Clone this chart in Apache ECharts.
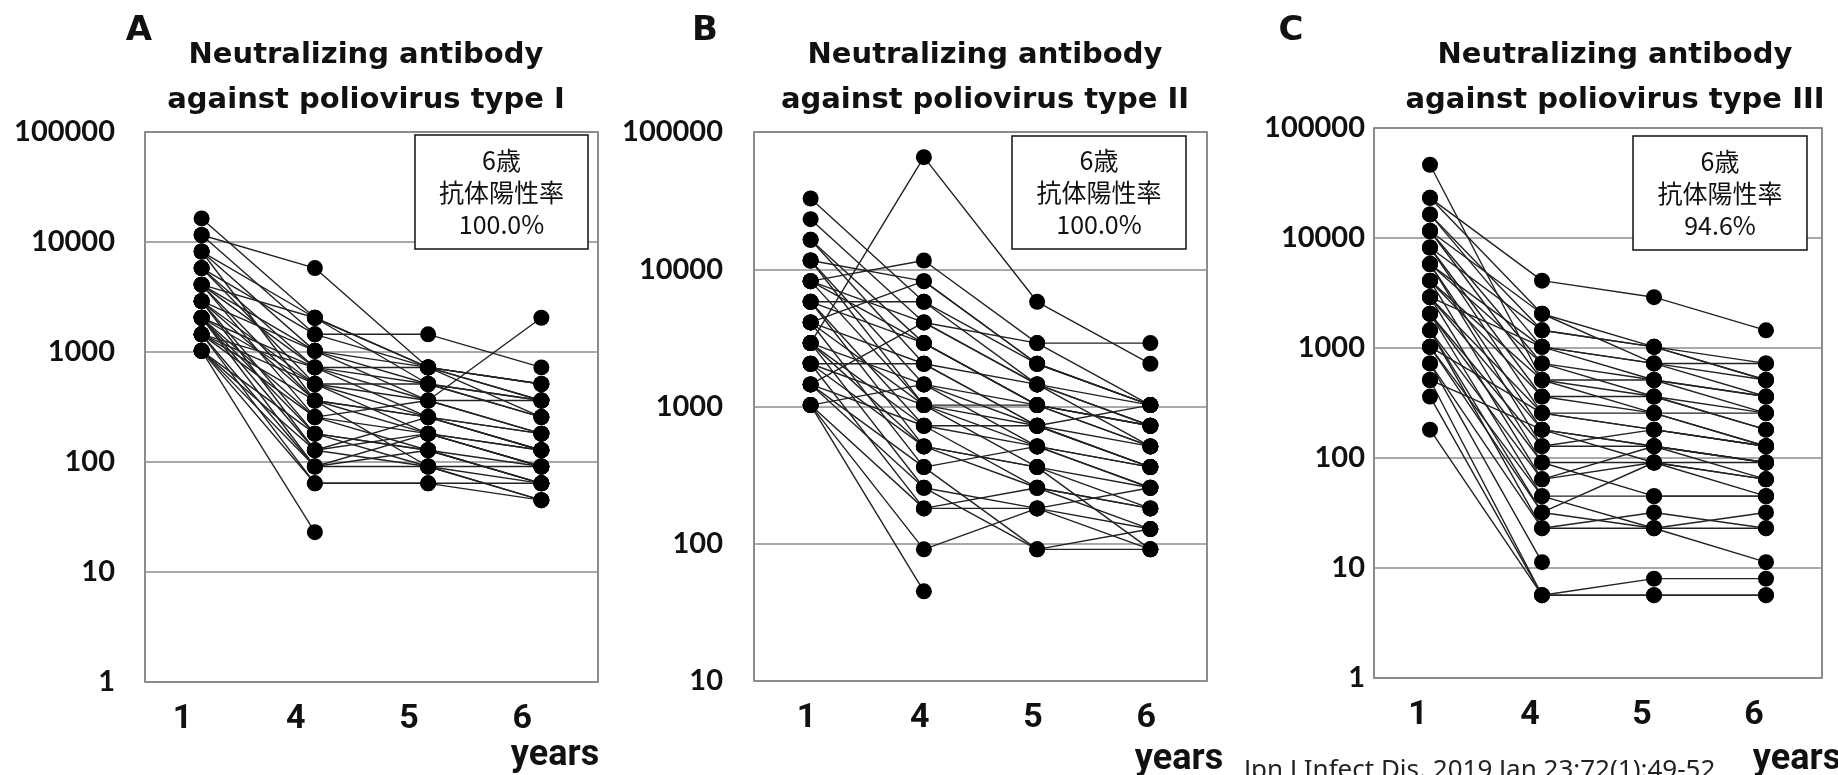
<!DOCTYPE html>
<html>
<head>
<meta charset="utf-8">
<script src="https://cdn.jsdelivr.net/npm/echarts@6/dist/echarts.min.js"></script>
<style>
  html, body { margin: 0; padding: 0; background: #fff; }
  #main { width: 1838px; height: 775px; }
</style>
</head>
<body>
<div id="main"></div>
<script>
// ages at sampling (x axis)
var years = ['1', '4', '5', '6'];

// one row per child: titre at age 1, 4, 5, 6
var typeI = [
  [16384, 2048, 724, 362],
  [11585, 5793, 724, 256],
  [11585, 1448, 1448, 724],
  [8192, 2048, 724, 512],
  [8192, 1024, 512, 256],
  [8192, 362, 91, 91],
  [5793, 1448, 724, 362],
  [5793, 724, 362, 181],
  [5793, 512, 256, 128],
  [4096, 1024, 724, 512],
  [4096, 724, 512, 362],
  [4096, 362, 181, 91],
  [4096, 256, 128, 64],
  [4096, 2048, 512, 362],
  [2896, 1024, 362, 2048],
  [2896, 512, 512, 256],
  [2896, 362, 256, 181],
  [2896, 181, 128, 91],
  [2896, 128, 91, 45],
  [2048, 724, 256, 128],
  [2048, 512, 362, 362],
  [2048, 256, 181, 128],
  [2048, 91, 181, 91],
  [2048, 181, 91, 64],
  [2048, 128, 256, 128],
  [1448, 362, 256, 181],
  [1448, 256, 362, 181],
  [1448, 91, 128, 64],
  [1448, 64, 64, 45],
  [1448, 512, 181, 91],
  [1448, 724, 724, 512],
  [1024, 181, 128, 64],
  [1024, 91, 91, 45],
  [1024, 23, null, null],
  [1024, 64, 64, 64],
  [1024, 128, 181, 128]
];

var typeII = [
  [32768, 5793, 1448, 724],
  [23170, 4096, 2896, 1024],
  [16384, 2896, 1024, 512],
  [16384, 2048, 724, 362],
  [11585, 8192, 2048, 1024],
  [11585, 1448, 512, 256],
  [11585, 1024, 512, 362],
  [8192, 11585, 2896, 2896],
  [8192, 4096, 1448, 724],
  [8192, 1024, 362, 181],
  [8192, 2896, 1024, 724],
  [5793, 5793, 2048, 1024],
  [5793, 2896, 1024, 724],
  [5793, 724, 256, 128],
  [5793, 512, 362, 256],
  [4096, 8192, 2048, 1024],
  [4096, 2048, 1448, 512],
  [4096, 1024, 724, 362],
  [4096, 362, 91, 91],
  [2896, 65536, 5793, 2048],
  [2896, 1448, 1024, 512],
  [2896, 724, 512, 256],
  [2896, 256, 181, 128],
  [2896, 512, 362, 91],
  [2048, 2048, 724, 1024],
  [2048, 1024, 1024, 724],
  [2048, 512, 256, 181],
  [2048, 181, 181, 91],
  [1448, 4096, 1448, 1024],
  [1448, 724, 724, 512],
  [1448, 362, 512, 362],
  [1448, 256, 91, 128],
  [1024, 1448, 724, 362],
  [1024, 91, 181, 256],
  [1024, 45, null, null],
  [1024, 181, 256, 181]
];

var typeIII = [
  [46341, 512, 256, 128],
  [23170, 4096, 2896, 1448],
  [23170, 2048, 1024, 724],
  [16384, 1448, 1024, 512],
  [16384, 1024, 724, 724],
  [11585, 2048, 724, 362],
  [11585, 724, 512, 256],
  [11585, 512, 362, 181],
  [8192, 1448, 1024, 512],
  [8192, 362, 256, 256],
  [8192, 256, 181, 128],
  [5793, 1024, 512, 362],
  [5793, 724, 362, 181],
  [5793, 181, 128, 91],
  [5793, 128, 181, 128],
  [4096, 512, 512, 362],
  [4096, 362, 362, 256],
  [4096, 91, 91, 64],
  [2896, 256, 256, 128],
  [2896, 181, 91, 91],
  [2896, 64, 128, 91],
  [2896, 1024, 724, 512],
  [2048, 128, 128, 64],
  [2048, 91, 45, 45],
  [2048, 45, 45, 45],
  [1448, 64, 91, 64],
  [1448, 32, 23, 11.3],
  [1448, 23, 32, 23],
  [1024, 45, 23, 32],
  [1024, 32, 91, 45],
  [1024, 256, 181, 128],
  [724, 23, 23, 23],
  [724, 11.3, null, null],
  [512, 5.66, 8, 8],
  [512, 181, 128, 91],
  [362, 5.66, 5.66, 5.66],
  [181, 5.66, 5.66, 5.66]
];

var titles = [
  'Neutralizing antibody\nagainst poliovirus type I',
  'Neutralizing antibody\nagainst poliovirus type II',
  'Neutralizing antibody\nagainst poliovirus type III'
];
var letters = ['A', 'B', 'C'];
var positiveRates = ['100.0%', '100.0%', '94.6%'];
var citation = 'Jpn J Infect Dis. 2019 Jan 23;72(1):49-52';

var chart = echarts.init(document.getElementById('main'));

// layout of the three panels
var panels = [
  { rows: typeI,   left: 145,  top: 132, width: 453, height: 550, yMin: 1,  yMargin: 30, shift: 19,
    titleX: 366,  letterX: 139,  box: [415, 135, 173, 114],  yearsX: 555,  yearsY: 756 },
  { rows: typeII,  left: 754,  top: 132, width: 453, height: 549, yMin: 10, yMargin: 31, shift: 4,
    titleX: 985,  letterX: 705,  box: [1012, 136, 174, 113], yearsX: 1179, yearsY: 760 },
  { rows: typeIII, left: 1374, top: 128, width: 448, height: 550, yMin: 1,  yMargin: 9,  shift: 12,
    titleX: 1615, letterX: 1291, box: [1633, 136, 174, 114], yearsX: 1797, yearsY: 760 }
];

var labelFont = 'Lato, "DejaVu Sans", sans-serif';
var headFont = '"DejaVu Sans", sans-serif';
var grids = [], xAxes = [], yAxes = [], series = [], graphics = [];

panels.forEach(function (p, i) {
  grids.push({
    left: p.left, top: p.top, width: p.width, height: p.height,
    show: true, borderColor: '#666', borderWidth: 1.5, backgroundColor: 'transparent'
  });
  xAxes.push({
    type: 'category', gridIndex: i, data: years, boundaryGap: true,
    axisLine: { show: false }, axisTick: { show: false },
    axisLabel: {
      margin: 20, fontSize: 34, fontWeight: 'bold', color: '#111',
      fontFamily: 'Roboto, sans-serif', padding: [0, p.shift * 2, 0, 0]
    }
  });
  yAxes.push({
    type: 'log', logBase: 10, gridIndex: i, min: p.yMin, max: 100000,
    axisLine: { show: false }, axisTick: { show: false },
    axisLabel: {
      margin: p.yMargin, fontSize: 29, fontWeight: 'bold', color: '#111', fontFamily: labelFont,
      formatter: function (v) { return String(Math.round(v)); }
    },
    splitLine: { show: true, lineStyle: { color: '#8c8c8c', width: 1.5 } }
  });
  p.rows.forEach(function (row) {
    series.push({
      type: 'line', xAxisIndex: i, yAxisIndex: i, data: row,
      symbol: 'circle', symbolSize: 16, showAllSymbol: true,
      lineStyle: { color: '#222', width: 1.4 },
      itemStyle: { color: '#000' },
      emphasis: { disabled: true }
    });
  });

  graphics.push({
    type: 'text', x: p.titleX, y: 33, z: 100,
    style: {
      text: titles[i], textAlign: 'center', textVerticalAlign: 'top',
      fontSize: 29, fontWeight: 'bold', lineHeight: 45, fontFamily: headFont, fill: '#111'
    }
  });
  graphics.push({
    type: 'text', x: p.letterX, y: 31, z: 100,
    style: {
      text: letters[i], textAlign: 'center', textVerticalAlign: 'middle',
      fontSize: 34, fontWeight: 'bold', fontFamily: headFont, fill: '#111'
    }
  });
  graphics.push({
    type: 'text', x: p.yearsX, y: p.yearsY, z: 100,
    style: {
      text: 'years', textAlign: 'center', textVerticalAlign: 'middle',
      fontSize: 36, fontWeight: 'bold', fontFamily: 'Roboto, sans-serif', fill: '#111'
    }
  });
  graphics.push({
    type: 'rect', z: 100,
    shape: { x: p.box[0], y: p.box[1], width: p.box[2], height: p.box[3] },
    style: { fill: '#fff', stroke: '#111', lineWidth: 1.5 }
  });
  graphics.push({
    type: 'text', z: 101,
    x: p.box[0] + p.box[2] / 2, y: p.box[1] + p.box[3] / 2,
    style: {
      text: '6歳\n抗体陽性率\n' + positiveRates[i], textAlign: 'center', textVerticalAlign: 'middle',
      fontSize: 25, lineHeight: 32, fontFamily: '"Noto Sans CJK JP", sans-serif', fill: '#111'
    }
  });
});

graphics.push({
  type: 'text', x: 1244, y: 758, z: 100,
  style: {
    text: citation, textAlign: 'left', textVerticalAlign: 'top',
    fontSize: 26, fontFamily: '"Liberation Sans Narrow", "Noto Sans", sans-serif', fill: '#222'
  }
});

chart.setOption({
  animation: false,
  backgroundColor: '#fff',
  grid: grids,
  xAxis: xAxes,
  yAxis: yAxes,
  series: series,
  graphic: graphics
});
</script>
</body>
</html>
